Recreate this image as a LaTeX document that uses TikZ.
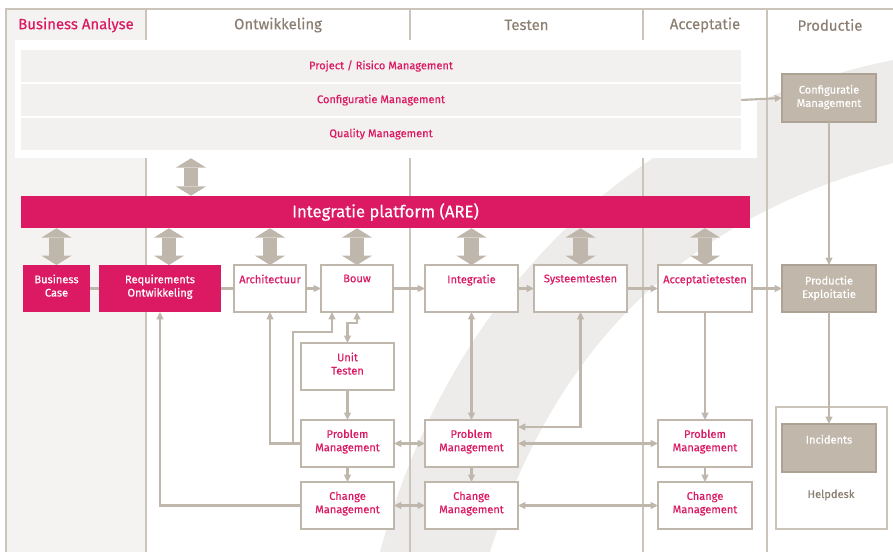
\documentclass[tikz,border=0pt]{standalone}
\usepackage{fontspec}
\setmainfont{Fira Sans}[FakeBold=0.4]
\usetikzlibrary{arrows.meta}

\definecolor{roze}{HTML}{DB1A63}
\definecolor{lijngrijs}{HTML}{BFB6AC}
\definecolor{kolomlijn}{HTML}{CBC4BB}
\definecolor{kaderbruin}{HTML}{C1B7AB}
\definecolor{kaderrand}{HTML}{ADA294}
\definecolor{kopbruin}{HTML}{8C7F72}
\definecolor{vlakgrijs}{HTML}{F4F3F1}
\definecolor{balkgrijs}{HTML}{F2F1EF}
\definecolor{boog}{HTML}{EDECEA}

\tikzset{
  stap/.style={draw=lijngrijs, fill=white, line width=1.8pt, minimum width=69.75pt, minimum height=35.25pt, inner sep=0pt, outer sep=0pt},
  stapr/.style={fill=roze, minimum height=35.25pt, inner sep=0pt, outer sep=0pt},
  stapg/.style={draw=kaderrand, fill=kaderbruin, line width=1.5pt, minimum width=70.5pt, minimum height=35.25pt, inner sep=0pt, outer sep=0pt},
  roodtxt/.style={anchor=north, inner sep=0pt, yshift=-7pt, align=center, text=roze, font=\fontsize{8.3}{10}\selectfont},
  wittxt/.style={roodtxt, text=white},
  grijstxt/.style={roodtxt, yshift=-1pt, text=white},
  kop/.style={inner sep=0pt, text=kopbruin, font=\fontsize{11.2}{13}\selectfont},
  rij/.style={fill=balkgrijs, minimum width=540pt, minimum height=24pt, inner sep=0pt, text=roze, font=\fontsize{8.3}{10}\selectfont},
  pijl/.style={draw=lijngrijs, line width=1.6pt, -{Triangle[length=5.5pt,width=5pt]}},
  dpijl/.style={pijl, {Triangle[length=5.5pt,width=5pt]}-{Triangle[length=5.5pt,width=5pt]}},
  lijn/.style={draw=lijngrijs, line width=1.6pt},
  blok/.style={draw=lijngrijs, line width=11pt, {Triangle[length=7pt,width=22.5pt,line width=0pt]}-{Triangle[length=7pt,width=22.5pt,line width=0pt]}},
}

\begin{document}
\begin{tikzpicture}[x=0.75pt,y=0.75pt,yscale=-1,xscale=1]
\useasboundingbox (0,0) rectangle (893,552);
% achtergrond
\fill[vlakgrijs] (6,9) rectangle (146,552);
\fill[boog] (380,552) .. controls (440,330) and (600,120) .. (893,60) -- (893,163) .. controls (700,215) and (560,330) .. (490,552) -- cycle;
\foreach \x in {146,410,643,767}
  \draw[kolomlijn, line width=1.5pt] (\x,9) -- (\x,552);
\draw[kolomlijn, line width=1.5pt] (6,552) -- (6,9) -- (893,9);

% kolomkoppen
\node[kop, text=roze] (kba) at (76,25) {Business Analyse};
\node[kop] (kont) at (278,25) {Ontwikkeling};
\node[kop] (ktest) at (526.5,25) {Testen};
\node[kop] (kacc) at (705,25) {Acceptatie};
\node[kop] (kprod) at (830,25) {Productie};

% management paneel
\node[fill=white, minimum width=556.5pt, minimum height=88.5pt, inner sep=0pt] (paneel) at (386,99) {};
\node[rij] (prm) at (381,66) {Project / Risico Management};
\node[rij] (cfm) at (381,100) {Configuratie Management};
\node[rij] (qm) at (381,134) {Quality Management};

% platform
\node[fill=roze, minimum width=546.75pt, minimum height=24pt, inner sep=0pt, text=white, font=\fontsize{12.5}{14}\selectfont] (are) at (385.5,212) {Integratie platform (ARE)};

% stappen
\node[stapr, minimum width=50.25pt, label={[wittxt]north:Business\\Case}] (bcase) at (56.5,288.5) {};
\node[stapr, minimum width=91.5pt, label={[wittxt]north:Requirements\\Ontwikkeling}] (req) at (160,288.5) {};
\node[stap, minimum width=54pt, label={[roodtxt]north:Architectuur}] (archi) at (270,288.5) {};
\node[stap, minimum width=54pt, label={[roodtxt]north:Bouw}] (bouw) at (357,288.5) {};
\node[stap, label={[roodtxt]north:Integratie}] (integ) at (471.5,288.5) {};
\node[stap, label={[roodtxt]north:Systeemtesten}] (syst) at (580.5,288.5) {};
\node[stap, minimum width=70.5pt, label={[roodtxt]north:Acceptatietesten}] (accept) at (705,288.5) {};
\node[stap, label={[roodtxt]north:Unit\\Testen}] (unit) at (347.5,366.5) {};
\node[stap, label={[roodtxt]north:Problem\\Management}] (pmo) at (347.5,443.5) {};
\node[stap, label={[roodtxt]north:Change\\Management}] (cmo) at (347.5,505.5) {};
\node[stap, label={[roodtxt]north:Problem\\Management}] (pmt) at (471.5,443.5) {};
\node[stap, label={[roodtxt]north:Change\\Management}] (cmt) at (471.5,505.5) {};
\node[stap, minimum width=70.5pt, label={[roodtxt]north:Problem\\Management}] (pma) at (705,443.5) {};
\node[stap, minimum width=70.5pt, label={[roodtxt]north:Change\\Management}] (cma) at (705,505.5) {};

% productie
\node[stapg, minimum height=36pt, label={[grijstxt]north:Configuratie\\Management}] (cfgp) at (829,98) {};
\node[stapg, label={[grijstxt]north:Productie\\Exploitatie}] (prod) at (829,288.5) {};
\node[draw=kolomlijn, fill=white, line width=1.5pt, minimum width=83.25pt, minimum height=91.5pt, inner sep=0pt] (help) at (831.5,468) {};
\node[kop, font=\fontsize{8.3}{10}\selectfont] (helpt) at (831,495) {Helpdesk};
\node[stapg, minimum height=36pt, label={[grijstxt]north:Incidents}] (inc) at (829,448) {};

% blokpijlen naar het platform
\draw[blok] (paneel.south -| 191,0) -- (are.north -| 191,0);
\foreach \n/\x in {bcase/56.5, req/169, archi/270, bouw/357, integ/471.5, syst/580.5, accept/705}
  \draw[blok] (are.south -| \x,0) -- (\n.north -| \x,0);

% verbindingen
\draw[lijn] (bcase) -- (req);
\draw[lijn] (req) -- (archi);
\draw[pijl] (archi) -- (bouw);
\draw[pijl] (bouw) -- (integ);
\draw[pijl] (integ) -- (syst);
\draw[pijl] (syst) -- (accept);
\draw[pijl] (accept) -- (prod);
\draw[pijl] (cfm.east) -- (cfgp.west);
\draw[pijl] (cfgp) -- (prod);
\draw[pijl] (prod) -- (inc);
\draw[pijl] (accept) -- (pma);
\draw[pijl] (pma) -- (cma);
\draw[pijl] (pmt) -- (cmt);
\draw[pijl] (pmo) -- (cmo);
\draw[pijl] (unit) -- (pmo);
\draw[dpijl] (pmo) -- (pmt);
\draw[dpijl] (pmt) -- (pma);
\draw[dpijl] (cmo) -- (cmt);
\draw[dpijl] (cmt) -- (cma);
\draw[dpijl] (integ) -- (pmt);
\draw[dpijl] (syst.south) |- (pmt.east |- 0,427);
\draw[dpijl] (bouw.south) -- ++(0,11) -| (unit.north);
\draw[pijl] (pmo.west) -| (archi.south);
\draw[pijl] (pmo.west) -| (293,332) -| (bouw.south -| 332,0);
\draw[pijl] (cmo.west) -| (req.south);
\end{tikzpicture}
\end{document}
